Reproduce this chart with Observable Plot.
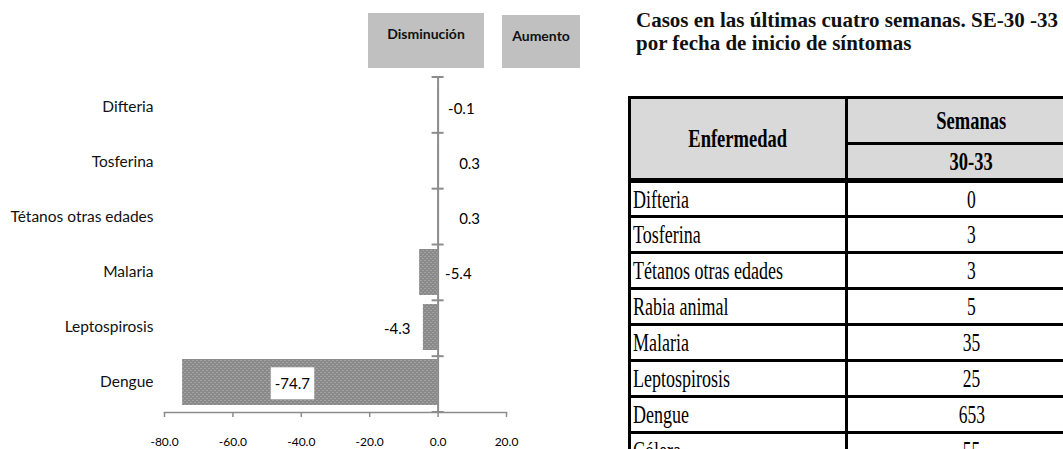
<!DOCTYPE html>
<html><head><meta charset="utf-8">
<script src="https://cdn.jsdelivr.net/npm/d3@7"></script>
<script src="https://cdn.jsdelivr.net/npm/@observablehq/plot@0.6"></script>
<style>
body{margin:0;width:1063px;height:449px;overflow:hidden;position:relative;background:#fff;font-family:Lato,sans-serif;}
#chart{position:absolute;left:0;top:0;}
.leg{position:absolute;background:#c0c0c0;font:bold 14px Lato,sans-serif;color:#111;text-align:center;box-sizing:border-box;padding-top:12px;line-height:17px;}
#leg1{left:368px;top:13px;width:116px;height:55px;}
#leg2{left:502px;top:15px;width:78px;height:53px;}
#title{position:absolute;left:636px;top:9px;font:bold 21px "Liberation Serif",serif;line-height:23px;color:#111;white-space:nowrap;}
#tbl{position:absolute;left:628px;top:96px;}
table{border-collapse:collapse;font-family:"Liberation Serif",serif;font-size:25px;color:#000;}
td,th{border:3px solid #000;padding:0;line-height:25px;vertical-align:middle;}
th{background:#d9d9d9;font-weight:bold;text-align:center;}
tr.h2 th{border-bottom-width:5px;}
th.enf{border-bottom-width:5px;}
td.name{text-align:left;padding-left:2px;}
td.val{text-align:center;}
.sx{display:inline-block;transform:scaleX(0.72);transform-origin:left center;white-space:nowrap;}
.sc{display:inline-block;transform:scaleX(0.70);transform-origin:center center;white-space:nowrap;}
th .sc{transform:scaleX(0.74);}
</style></head><body>
<div id="chart"></div>
<div class="leg" id="leg1"></div>
<div class="leg" id="leg2"></div>
<div id="title"></div>
<div id="tbl"></div>
<script>
// ---- data ----
const categories = ["Difteria", "Tosferina", "Tétanos otras edades", "Malaria", "Leptospirosis", "Dengue"];
const changes = [-0.1, 0.3, 0.3, -5.4, -4.3, -74.7];
const xTicks = [-80, -60, -40, -20, 0, 20];
const legendLabels = ["Disminución", "Aumento"];
const titleLines = ["Casos en las últimas cuatro semanas. SE-30 -33", "por fecha de inicio de síntomas"];
const tableHeader = ["Enfermedad", "Semanas", "30-33"];
const tableDiseases = ["Difteria", "Tosferina", "Tétanos otras edades", "Rabia animal", "Malaria", "Leptospirosis", "Dengue", "Cólera"];
const tableCases = [0, 3, 3, 5, 35, 25, 653, 55];

// label placement (style)
const labelStyle = {
  "Difteria": {anchor: "start", dx: 10, at: "zero"},
  "Tosferina": {anchor: "start", dx: 20, at: "end"},
  "Tétanos otras edades": {anchor: "start", dx: 20, at: "end"},
  "Malaria": {anchor: "start", dx: 7, at: "zero"},
  "Leptospirosis": {anchor: "end", dx: -13, at: "end"},
  "Dengue": {anchor: "middle", dx: -18, at: "mid", boxed: true}
};

const data = categories.map((c, i) => ({cat: c, v: changes[i]}));
const labelX = d => { const s = labelStyle[d.cat]; return s.at === "zero" ? 0 : s.at === "mid" ? d.v / 2 : d.v; };

const axisGray = "#8c8c8c";
const ns = "http://www.w3.org/2000/svg";

const textMarks = categories.map(c => {
  const s = labelStyle[c];
  return Plot.text(data.filter(d => d.cat === c), {
    x: labelX, y: "cat", text: d => d.v.toFixed(1),
    textAnchor: s.anchor, dx: s.dx, dy: 2, fontSize: 15, fill: "#000",
    className: s.boxed ? "boxed" : undefined
  });
});

const plot = Plot.plot({
  width: 620, height: 449,
  marginLeft: 164, marginRight: 114, marginTop: 77, marginBottom: 37,
  style: {fontFamily: "Lato, sans-serif", background: "transparent", overflow: "visible"},
  x: {domain: [-80, 20], label: null},
  y: {domain: categories, paddingInner: 0.17, paddingOuter: 0.085, label: null},
  marks: [
    Plot.barX(data, {x: "v", y: "cat", fill: "url(#hatch)"}),
    Plot.ruleX([0], {stroke: axisGray, strokeWidth: 2}),
    Plot.frame({anchor: "bottom", stroke: axisGray, strokeWidth: 1.5}),
    Plot.axisX({ticks: xTicks, tickFormat: d => d.toFixed(1), tickSize: 5, tickPadding: 20, stroke: axisGray, strokeWidth: 1.5, fill: "#000", fontSize: 12, label: null}),
    Plot.axisY({tickSize: 0, tickPadding: 11, fontSize: 15.5, fill: "#111", label: null}),
    ...textMarks
  ]
});
document.getElementById("chart").appendChild(plot);

// hatch pattern for bars
const defs = document.createElementNS(ns, "defs");
defs.innerHTML = `<pattern id="hatch" width="4" height="4" patternUnits="userSpaceOnUse">
  <rect width="4" height="4" fill="#8a8a8a"/>
  <rect x="0" y="0" width="2" height="1" fill="#a2a2a2"/>
  <rect x="2" y="2" width="2" height="1" fill="#a2a2a2"/></pattern>`;
plot.insertBefore(defs, plot.firstChild);

// category boundary ticks on the zero axis, from the library's scales
{
  const sy = plot.scale("y"), sx = plot.scale("x");
  const [r0, r1] = sy.range;
  const n = sy.domain.length;
  const x0 = sx.apply(0);
  const g = document.createElementNS(ns, "g");
  for (let k = 0; k <= n; k++) {
    const b = r0 + k * (r1 - r0) / n;
    const l = document.createElementNS(ns, "line");
    l.setAttribute("x1", x0 - 6); l.setAttribute("x2", x0 + 6);
    l.setAttribute("y1", b); l.setAttribute("y2", b);
    l.setAttribute("stroke", axisGray); l.setAttribute("stroke-width", 2);
    g.appendChild(l);
  }
  plot.appendChild(g);
}

// white box behind boxed labels
plot.querySelectorAll("g.boxed text").forEach(t => {
  const b = t.getBBox();
  const r = document.createElementNS(ns, "rect");
  r.setAttribute("x", b.x - 4); r.setAttribute("y", b.y - 7);
  r.setAttribute("width", b.width + 8); r.setAttribute("height", b.height + 14);
  r.setAttribute("fill", "#fff");
  r.setAttribute("transform", t.getAttribute("transform") || "");
  t.parentNode.insertBefore(r, t);
});

document.getElementById("leg1").textContent = legendLabels[0];
document.getElementById("leg2").textContent = legendLabels[1];
document.getElementById("title").innerHTML = titleLines.join("<br>");

// table
let html = `<table style="width:470px"><colgroup><col style="width:217px"><col style="width:253px"></colgroup>`;
html += `<tr style="height:46px"><th rowspan="2" class="enf"><span class="sc">${tableHeader[0]}</span></th><th><span class="sc">${tableHeader[1]}</span></th></tr>`;
html += `<tr class="h2" style="height:37px"><th><span class="sc">${tableHeader[2]}</span></th></tr>`;
tableDiseases.forEach((d, i) => {
  html += `<tr style="height:36px"><td class="name"><span class="sx">${d}</span></td><td class="val"><span class="sc">${tableCases[i]}</span></td></tr>`;
});
html += `</table>`;
document.getElementById("tbl").innerHTML = html;
</script>
</body></html>
